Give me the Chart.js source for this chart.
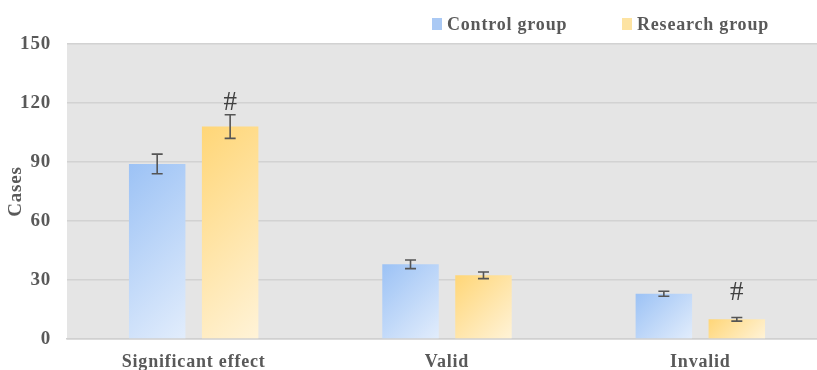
<!DOCTYPE html>
<html>
<head>
<meta charset="utf-8">
<script src="https://cdn.jsdelivr.net/npm/chart.js@4/dist/chart.umd.min.js"></script>
<style>
  html, body { margin: 0; padding: 0; background: #ffffff; overflow: hidden; }
  #wrap { position: relative; width: 840px; height: 370px; }
</style>
</head>
<body>
<div id="wrap"><canvas id="chart"></canvas></div>
<script>
// Cases per outcome for both groups, with standard errors
const categories = ['Significant effect', 'Valid', 'Invalid'];
const controlCases = [89, 38, 23];
const controlError = [5, 2.2, 1.3];
const researchCases = [108, 32.4, 10];
const researchError = [6, 1.7, 0.9];
const researchMarks = ['#', '', '#'];
const seriesNames = ['Control group', 'Research group'];

const TEXT = '#595959';
const SERIF = '"Liberation Serif", "DejaVu Serif", serif';
const CAT_PCT = 0.576;
const BAR_PCT = 0.774;
const SPACING = '0.8px';

// 45-degree gradient laid over a single bar
function barFill(from, to) {
  return (ctx) => {
    const chart = ctx.chart;
    const xs = chart.scales.x, ys = chart.scales.y;
    if (!chart.chartArea || ctx.type !== 'data' || !xs || !ys) return from;
    const catW = xs.width / categories.length;
    const slot = catW * CAT_PCT / 2;
    const cx = xs.getPixelForValue(ctx.dataIndex) + (ctx.datasetIndex - 0.5) * slot;
    const half = slot * BAR_PCT / 2;
    const top = ys.getPixelForValue(ctx.raw);
    const bottom = ys.getPixelForValue(0);
    const left = cx - half;
    const span = (2 * half + (bottom - top)) / 2;
    const g = chart.ctx.createLinearGradient(left, top, left + span, top + span);
    g.addColorStop(0, from);
    g.addColorStop(1, to);
    return g;
  };
}

// slightly widened lettering for all axis text
const letterSpacing = {
  id: 'letterSpacing',
  beforeLayout(chart) { chart.ctx.letterSpacing = SPACING; },
  beforeDraw(chart) { chart.ctx.letterSpacing = SPACING; }
};

// grey plotting area behind the bars
const plotBackground = {
  id: 'plotBackground',
  beforeDraw(chart) {
    const { ctx, chartArea: a } = chart;
    ctx.save();
    ctx.fillStyle = '#e5e5e5';
    ctx.fillRect(a.left, a.top, a.right - a.left, a.bottom - a.top);
    ctx.restore();
  }
};

// error bars with caps, plus significance marks over the research bars
const errorBars = {
  id: 'errorBars',
  afterDatasetsDraw(chart, args, opts) {
    const { ctx } = chart;
    const ys = chart.scales.y;
    ctx.save();
    ctx.letterSpacing = '0px';
    chart.data.datasets.forEach((ds, di) => {
      const meta = chart.getDatasetMeta(di);
      meta.data.forEach((bar, i) => {
        const v = ds.data[i], e = ds.errors[i];
        const yTop = ys.getPixelForValue(v + e);
        const yBot = ys.getPixelForValue(v - e);
        ctx.strokeStyle = '#555555';
        ctx.lineWidth = 1.6;
        ctx.beginPath();
        ctx.moveTo(bar.x, yTop); ctx.lineTo(bar.x, yBot);
        ctx.moveTo(bar.x - 5.5, yTop); ctx.lineTo(bar.x + 5.5, yTop);
        ctx.moveTo(bar.x - 5.5, yBot); ctx.lineTo(bar.x + 5.5, yBot);
        ctx.stroke();
        const mark = ds.marks && ds.marks[i];
        if (mark) {
          ctx.fillStyle = '#404040';
          ctx.font = '27px ' + SERIF;
          ctx.textAlign = 'center';
          ctx.textBaseline = 'alphabetic';
          ctx.fillText(mark, bar.x, yTop - opts.markGap[i]);
        }
      });
    });
    ctx.restore();
  }
};

// legend row above the plot
const topLegend = {
  id: 'topLegend',
  afterDraw(chart, args, opts) {
    const { ctx } = chart;
    ctx.save();
    ctx.letterSpacing = SPACING;
    ctx.font = 'bold 18px ' + SERIF;
    ctx.textBaseline = 'alphabetic';
    ctx.textAlign = 'left';
    chart.data.datasets.forEach((ds, i) => {
      const x = opts.starts[i];
      ctx.fillStyle = ds.legendColor;
      ctx.fillRect(x, 18, 10, 12);
      ctx.fillStyle = TEXT;
      ctx.fillText(ds.label, x + 15, 30);
    });
    ctx.restore();
  }
};

new Chart(document.getElementById('chart'), {
  type: 'bar',
  data: {
    labels: categories,
    datasets: [
      {
        label: seriesNames[0],
        data: controlCases,
        errors: controlError,
        legendColor: '#aac9f4',
        backgroundColor: barFill('#9cc2f5', '#e2edfc'),
        categoryPercentage: CAT_PCT,
        barPercentage: BAR_PCT
      },
      {
        label: seriesNames[1],
        data: researchCases,
        errors: researchError,
        marks: researchMarks,
        legendColor: '#fde3a2',
        backgroundColor: barFill('#ffd677', '#fff3d8'),
        categoryPercentage: CAT_PCT,
        barPercentage: BAR_PCT
      }
    ]
  },
  options: {
    responsive: true,
    maintainAspectRatio: false,
    animation: false,
    layout: { padding: { left: 5, right: 13, top: 44, bottom: 0 } },
    plugins: {
      legend: { display: false },
      tooltip: { enabled: false },
      errorBars: { markGap: [5, 0, 18] },
      topLegend: { starts: [432, 622] }
    },
    scales: {
      x: {
        grid: { display: false, drawTicks: false },
        border: { display: true, color: '#d0d0d0', width: 1.5 },
        ticks: {
          color: TEXT,
          padding: 13,
          maxRotation: 0,
          font: { family: SERIF, size: 18, weight: 'bold' }
        },
        afterFit(scale) { scale.height = 31; }
      },
      y: {
        min: 0,
        max: 150,
        ticks: {
          stepSize: 30,
          color: TEXT,
          padding: 16,
          font: { family: SERIF, size: 19, weight: 'bold' }
        },
        grid: { color: '#d2d2d2', lineWidth: 1.5, drawTicks: false },
        border: { display: false },
        title: {
          display: true,
          text: 'Cases',
          color: TEXT,
          padding: { top: 0, bottom: 0 },
          font: { family: SERIF, size: 19, weight: 'bold' }
        },
        afterFit(scale) { scale.width = 62; }
      }
    }
  },
  plugins: [letterSpacing, plotBackground, errorBars, topLegend]
});
</script>
</body>
</html>
